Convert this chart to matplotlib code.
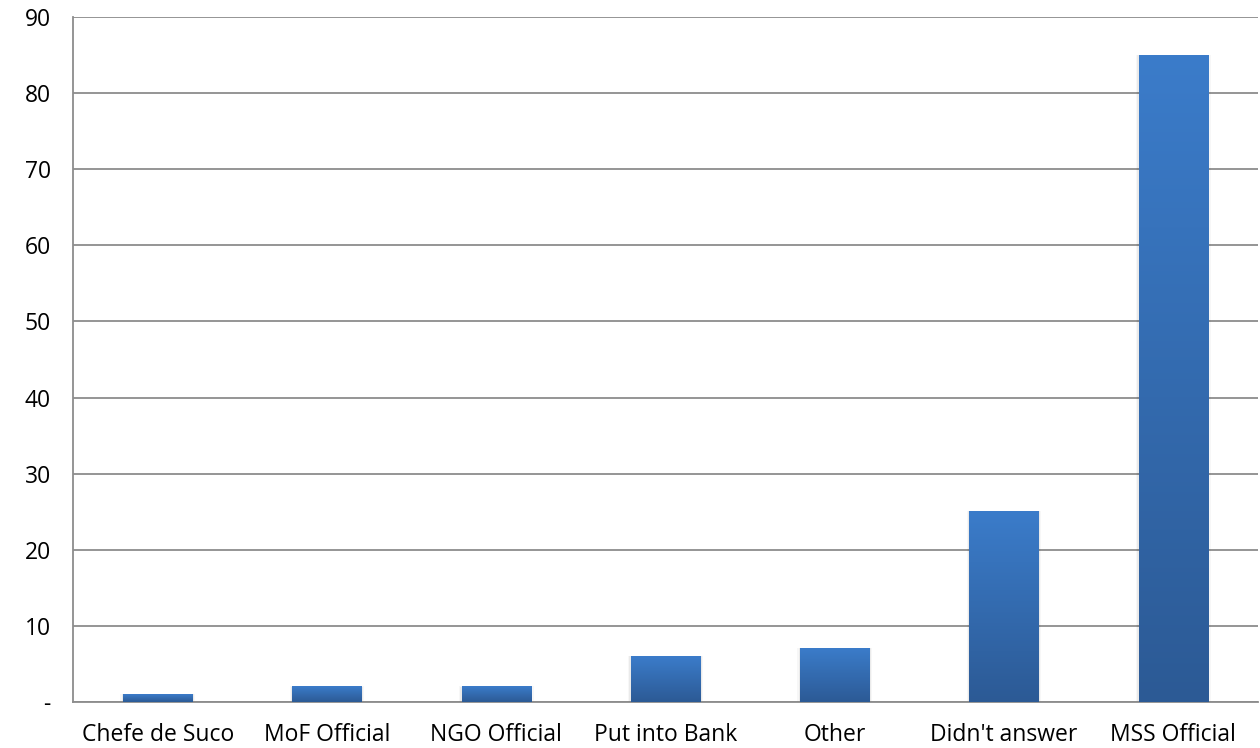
import numpy as np
import matplotlib.pyplot as plt
from matplotlib.colors import LinearSegmentedColormap
from matplotlib.patches import Rectangle

categories = ['Chefe de Suco', 'MoF Official', 'NGO Official', 'Put into Bank',
              'Other', "Didn't answer", 'MSS Official']
values = [1, 2, 2, 6, 7, 25, 85]
yticks = [0, 10, 20, 30, 40, 50, 60, 70, 80, 90]
ytick_labels = ['-', '10', '20', '30', '40', '50', '60', '70', '80', '90']

plt.rcParams['font.family'] = ['Open Sans', 'DejaVu Sans']

fig = plt.figure(figsize=(12.6, 7.48), dpi=100)
ax = fig.add_axes([73 / 1260, 46 / 748, 1185 / 1260, 685 / 748])

x = np.arange(len(categories))
width = 0.41
bars = ax.bar(x, values, width=width, color='none', zorder=3)

# vertical gradient fill, light at the top and dark at the bottom
grad_cmap = LinearSegmentedColormap.from_list('bar', ['#2c5a95', '#3b7cca'])
grad = np.linspace(0, 1, 256).reshape(-1, 1)
for b in bars:
    x0, y0 = b.get_x(), b.get_y()
    w, h = b.get_width(), b.get_height()
    # faint shadow on the sides
    for k, a in enumerate([0.05, 0.03]):
        d = 0.008 * (k + 1)
        ax.add_patch(Rectangle((x0 - d, y0), w + 2 * d, h + d * 4,
                               facecolor='black', alpha=a, edgecolor='none', zorder=2))
    ax.imshow(grad, extent=(x0, x0 + w, y0, y0 + h), origin='lower',
              cmap=grad_cmap, aspect='auto', zorder=3)

ax.set_xlim(-0.5, len(categories) - 0.5)
ax.set_ylim(0, 90)
ax.set_yticks(yticks)
ax.set_yticklabels(ytick_labels)
ax.set_xticks(x)
ax.set_xticklabels(categories)
ax.tick_params(axis='both', length=0, labelsize=16.5, colors='black')
ax.tick_params(axis='y', pad=16)
ax.tick_params(axis='x', pad=15)

ax.yaxis.grid(True, color='#8c8c8c', linewidth=1.3, zorder=0)
ax.set_axisbelow(True)
for side in ['top', 'right']:
    ax.spines[side].set_visible(False)
for side in ['left', 'bottom']:
    ax.spines[side].set_color('#8c8c8c')
    ax.spines[side].set_linewidth(1.3)

fig.savefig('out.png', dpi=100)
